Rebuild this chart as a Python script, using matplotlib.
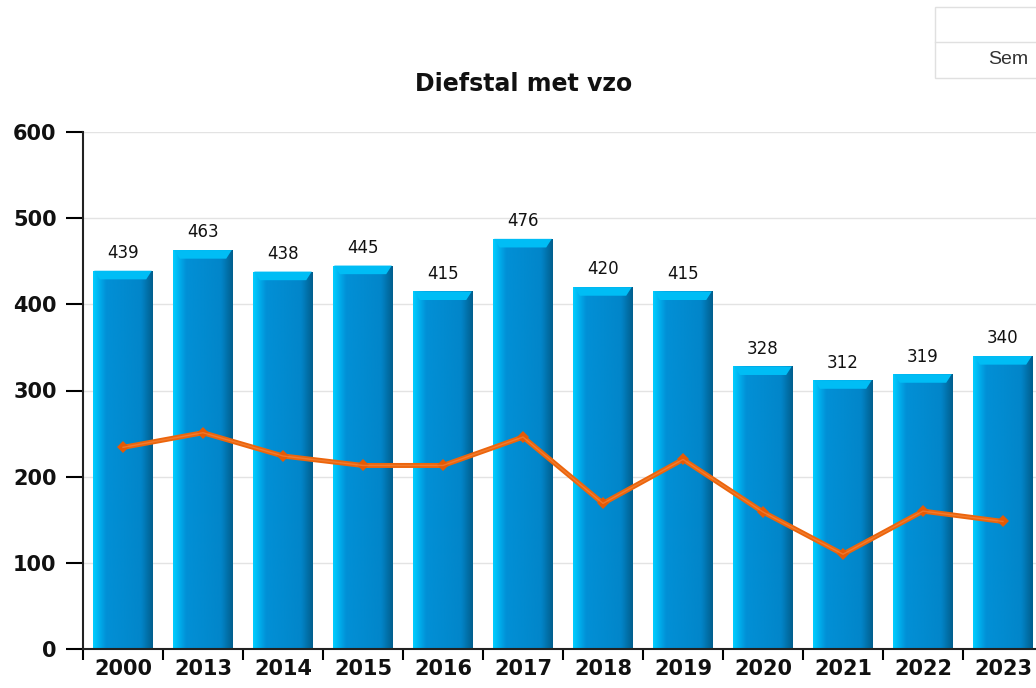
import numpy as np
import matplotlib
matplotlib.use("Agg")
import matplotlib.pyplot as plt
from matplotlib.colors import LinearSegmentedColormap
from matplotlib.patches import Rectangle, Polygon

years = ["2000", "2013", "2014", "2015", "2016", "2017", "2018", "2019", "2020", "2021", "2022", "2023"]
counts = [439, 463, 438, 445, 415, 476, 420, 415, 328, 312, 319, 340]
line_vals = [234, 251, 224, 213, 213, 246, 169, 220, 159, 110, 160, 148]
title = "Diefstal met vzo"
legend_text = "Sem"

W, H = 1036, 688
fig = plt.figure(figsize=(W / 100, H / 100), dpi=100)
ax = fig.add_axes([83 / W, 1 - 649 / H, (1043 - 83) / W, (649 - 132) / H])

x = np.arange(len(years))
bw = 0.75
bars = ax.bar(x, counts, width=bw, color="#0288CF", zorder=2)

cmap = LinearSegmentedColormap.from_list(
    "cyl", [(0, "#00CFFF"), (0.1, "#00B0EE"), (0.22, "#0290D6"), (0.8, "#0286CA"), (0.9, "#0272AC"), (1.0, "#015E8C")])
grad = np.linspace(0, 1, 256).reshape(1, -1)
bev_x = 0.085
bev_y = 10
for b, v in zip(bars, counts):
    x0 = b.get_x()
    im = ax.imshow(grad, cmap=cmap, aspect="auto", extent=(x0, x0 + bw, 0, v),
                   zorder=2.1, interpolation="bicubic")
    im.set_clip_path(b)
    top = Polygon([(x0 + 0.015, v), (x0 + bw - 0.015, v), (x0 + bw - bev_x, v - bev_y), (x0 + bev_x, v - bev_y)],
                  closed=True, facecolor="#00BDF5", edgecolor="none", zorder=2.3)
    ax.add_patch(top)
    ax.text(x0 + bw / 2, v + 10, str(v), ha="center", va="bottom", fontsize=12, color="#111111", zorder=5)

ax.plot(x, line_vals, color="#EC650C", lw=3.6, zorder=3, solid_joinstyle="round",
        marker="D", markersize=6, markeredgewidth=0, markerfacecolor="#E55A05")
ax.plot(x, line_vals, color="#F58A45", lw=1.0, zorder=3.1, alpha=0.6)

ax.set_xlim(-0.5, len(years) - 0.5)
ax.set_ylim(0, 600)
ax.set_yticks(np.arange(0, 601, 100))
ax.set_xticks(x)
ax.set_xticklabels(years)
ax.set_xticks(np.arange(-0.5, len(years), 1), minor=True)
ax.tick_params(axis="x", which="major", length=0, pad=7)
ax.tick_params(axis="x", which="minor", length=8, width=1.5, direction="out")
ax.tick_params(axis="y", length=12, width=1.5, direction="out", pad=7)
for lab in ax.get_xticklabels() + ax.get_yticklabels():
    lab.set_fontweight("bold")
    lab.set_fontsize(15)
    lab.set_color("#111111")

ax.grid(axis="y", color="#E3E3E3", lw=1, zorder=0)
ax.set_axisbelow(True)
for s in ["top", "right"]:
    ax.spines[s].set_visible(False)
for s in ["left", "bottom"]:
    ax.spines[s].set_linewidth(1.5)
    ax.spines[s].set_color("#222222")

fig.text(524 / W, 1 - 84 / H, title, ha="center", va="center", fontsize=17, fontweight="bold", color="#111111")

# partial legend/table box at top right
fig.patches.append(Rectangle((935 / W, 1 - 78 / H), 120 / W, 71 / H, transform=fig.transFigure,
                             facecolor="white", edgecolor="#E0E0E0", lw=1))
fig.lines.append(plt.Line2D([935 / W, 1], [1 - 42 / H, 1 - 42 / H], transform=fig.transFigure,
                            color="#E0E0E0", lw=1))
fig.text(988 / W, 1 - 60 / H, legend_text, ha="left", va="center", fontsize=14,
         family="Liberation Sans", color="#333333")

fig.savefig("out.png", dpi=100)
